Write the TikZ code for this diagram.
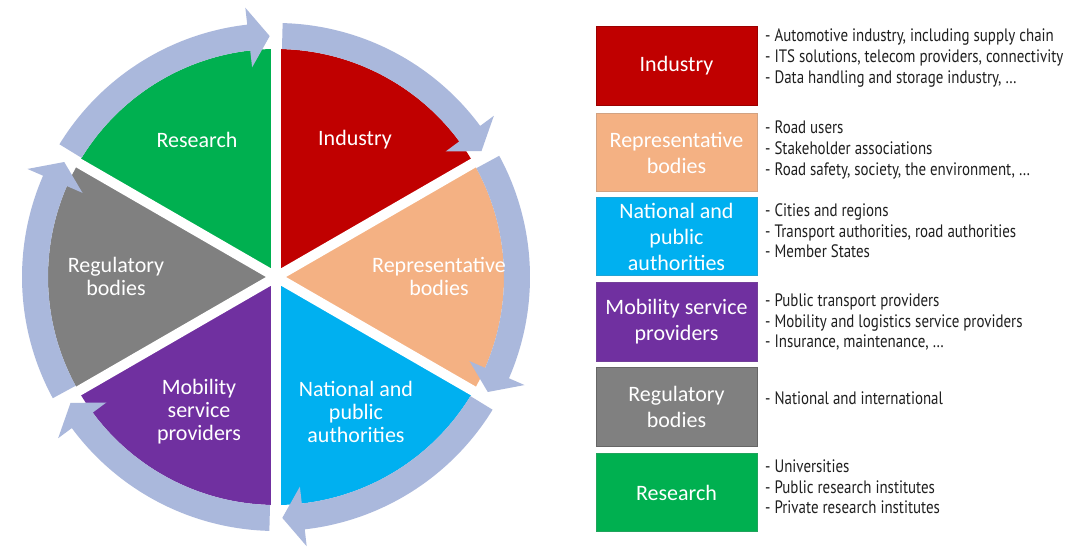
\documentclass[tikz,border=0pt]{standalone}
\usepackage{fontspec}
\setmainfont{Carlito}
\newfontfamily\bulletfont[FakeStretch=0.83]{PT Sans}
\definecolor{ringc}{HTML}{AAB8DC}
\definecolor{cgreen}{HTML}{00B050}
\definecolor{cred}{HTML}{C00000}
\definecolor{cpeach}{HTML}{F4B183}
\definecolor{cblue}{HTML}{00B0F0}
\definecolor{cpurple}{HTML}{7030A0}
\definecolor{cgrey}{HTML}{808080}
\definecolor{ctext}{HTML}{1F1F1F}
\tikzset{
  pielabel/.style={text=white,align=center,inner sep=0pt,font=\fontsize{22}{23}\selectfont},
  catbox/.style={minimum width=161pt,minimum height=78.5pt,inner sep=0pt,align=center,text=white,
    line width=1pt,font=\fontsize{22}{26}\selectfont},
  bullets/.style={anchor=west,align=left,inner sep=0pt,text=ctext,font=\bulletfont\fontsize{18}{20.7}\selectfont},
  gapline/.style={white,line width=10pt},
  ringarrow/.style={fill=ringc}
}
\begin{document}
\begin{tikzpicture}[x=1pt,y=1pt]
\useasboundingbox (0,0) rectangle (1075,554);
\fill[white] (0,0) rectangle (1075,554);
\begin{scope}[shift={(276,277)}]
  \fill[cgreen] (0,0) -- (90:228pt) arc[start angle=90,end angle=150,radius=228pt] -- cycle;
  \fill[cred] (0,0) -- (30:228pt) arc[start angle=30,end angle=90,radius=228pt] -- cycle;
  \fill[cpeach] (0,0) -- (-30:228pt) arc[start angle=-30,end angle=30,radius=228pt] -- cycle;
  \fill[cblue] (0,0) -- (-90:228pt) arc[start angle=-90,end angle=-30,radius=228pt] -- cycle;
  \fill[cpurple] (0,0) -- (-150:228pt) arc[start angle=-150,end angle=-90,radius=228pt] -- cycle;
  \fill[cgrey] (0,0) -- (150:228pt) arc[start angle=150,end angle=210,radius=228pt] -- cycle;
  \foreach \a in {30,90,150,210,270,330}
    \draw[gapline] (0,0) -- (\a:240pt);
  \foreach \g in {90,30,-30,-90,-150,150}
    \fill[ringarrow] ({\g+58.5}:254pt) arc[start angle={\g+58.5},end angle={\g+6.5},radius=254pt]
      -- ({\g+6.5}:271pt) -- ({\g+1.5}:241pt) -- ({\g+6.5}:211pt) -- ({\g+6.5}:228pt)
      arc[start angle={\g+6.5},end angle={\g+58.5},radius=228pt] -- cycle;
\end{scope}
\node[pielabel] (pResearch) at (197,414) {Research};
\node[pielabel] (pIndustry) at (355,414) {Industry};
\node[pielabel] (pRegulatory) at (116,278) {Regulatory\\bodies};
\node[pielabel] (pRepresentative) at (439,278) {Representative\\bodies};
\node[pielabel] (pMobility) at (199,142) {Mobility\\service\\providers};
\node[pielabel] (pNational) at (356,142) {National and\\public\\authorities};

\node[catbox,fill=cred,draw=cred!80!black] (bIndustry) at (676.5,488) {Industry};
\node[catbox,fill=cpeach,draw=cpeach!70!gray] (bRepresentative) at (676.5,401.5) {Representative\\bodies};
\node[catbox,fill=cblue,draw=cblue!75!gray] (bNational) at (676.5,317.5) {National and\\public\\authorities};
\node[catbox,fill=cpurple,draw=cpurple!80!gray] (bMobility) at (676.5,232) {Mobility service\\providers};
\node[catbox,fill=cgrey,draw=cgrey!80!black] (bRegulatory) at (676.5,147) {Regulatory\\bodies};
\node[catbox,fill=cgreen,draw=cgreen!75!gray] (bResearch) at (676.5,61.5) {Research};

\node[bullets] (tIndustry) at (765,496) {- Automotive industry, including supply chain\\- ITS solutions, telecom providers, connectivity\\- Data handling and storage industry, \dots};
\node[bullets] (tRepresentative) at (765,404) {- Road users\\- Stakeholder associations\\- Road safety, society, the environment, \dots};
\node[bullets] (tNational) at (765,323) {- Cities and regions\\- Transport authorities, road authorities\\- Member States};
\node[bullets] (tMobility) at (765,232) {- Public transport providers\\- Mobility and logistics service providers\\- Insurance, maintenance, \dots};
\node[bullets] (tRegulatory) at (765,156) {- National and international};
\node[bullets] (tResearch) at (765,67) {- Universities\\- Public research institutes\\- Private research institutes};
\end{tikzpicture}
\end{document}
